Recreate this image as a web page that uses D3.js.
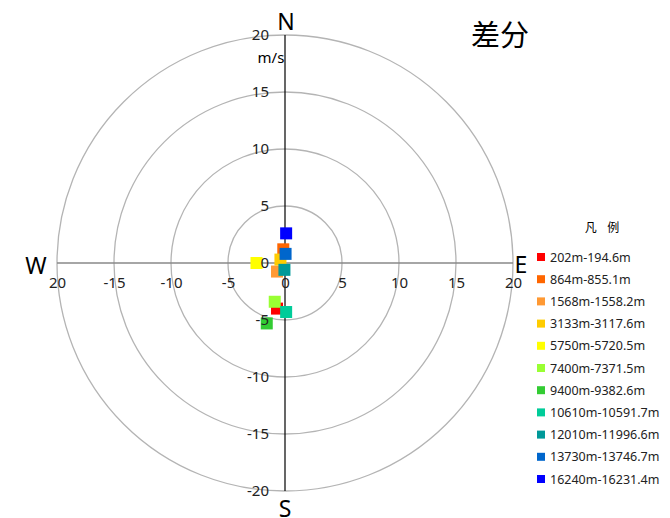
<!DOCTYPE html>
<html>
<head>
<meta charset="utf-8">
<script src="https://cdn.jsdelivr.net/npm/d3@7"></script>
<style>
  body { margin: 0; background: #fff; }
  text { font-family: "Noto Sans", "Open Sans", sans-serif; }
</style>
</head>
<body>
<div id="chart"></div>
<script>
(function(){
// data: u (east) / v (north) difference per level
var series = ["202m-194.6m", "864m-855.1m", "1568m-1558.2m", "3133m-3117.6m", "5750m-5720.5m",
    "7400m-7371.5m", "9400m-9382.6m", "10610m-10591.7m", "12010m-11996.6m", "13730m-13746.7m", "16240m-16231.4m"];
var uValues = [-0.7, -0.15, -0.7, -0.4, -2.5, -0.9, -1.6, 0.1, -0.05, 0.05, 0.1];
var vValues = [-4.0, 1.2, -0.75, 0.3, 0.0, -3.4, -5.3, -4.3, -0.6, 0.8, 2.6];
var colors = ["#ff0000", "#ff6600", "#ff9933", "#ffcc00", "#ffff00", "#99ff33", "#33cc33", "#00cc99", "#009999", "#0066cc", "#0000ff"];
var rings = [5, 10, 15, 20];
var tickValues = [-20, -15, -10, -5, 0, 5, 10, 15, 20];
var xTickLabels = ["20", "-15", "-10", "-5", "0", "5", "10", "15", "20"];
var yTickLabels = ["-20", "-15", "-10", "-5", "0", "5", "10", "15", "20"];

var width = 670, height = 518;
var cx = 285, cy = 263, R = 228;

var svg = d3.select("#chart").append("svg")
    .attr("width", width)
    .attr("height", height);

var x = d3.scaleLinear().domain([-20, 20]).range([cx - R, cx + R]);
var y = d3.scaleLinear().domain([-20, 20]).range([cy + R, cy - R]);
var r = d3.scaleLinear().domain([0, 20]).range([0, R]);

// rings
svg.append("g").selectAll("circle")
    .data(rings)
    .join("circle")
    .attr("cx", cx)
    .attr("cy", cy)
    .attr("r", function (d) { return r(d); })
    .attr("fill", "none")
    .attr("stroke", "#b4b4b4")
    .attr("stroke-width", 1.3);

// axis lines
svg.append("line")
    .attr("x1", x(-20)).attr("x2", x(20))
    .attr("y1", cy).attr("y2", cy)
    .attr("stroke", "#888").attr("stroke-width", 1.5);
svg.append("line")
    .attr("x1", cx).attr("x2", cx)
    .attr("y1", y(20)).attr("y2", y(-20))
    .attr("stroke", "#000").attr("stroke-width", 1.2);

// markers (under the tick labels)
svg.append("g").selectAll("rect")
    .data(series)
    .join("rect")
    .attr("x", function (d, i) { return x(uValues[i]) - 6; })
    .attr("y", function (d, i) { return y(vValues[i]) - 6; })
    .attr("width", 12)
    .attr("height", 12)
    .attr("fill", function (d, i) { return colors[i]; });

// tick labels
var xAxis = svg.append("g")
    .attr("transform", "translate(0," + cy + ")")
    .call(d3.axisBottom(x).tickValues(tickValues).tickSize(0).tickPadding(14)
        .tickFormat(function (d, i) { return xTickLabels[i]; }));
var yAxis = svg.append("g")
    .attr("transform", "translate(" + (cx - 1) + ",0)")
    .call(d3.axisLeft(y).tickValues(tickValues).tickSize(0).tickPadding(15)
        .tickFormat(function (d, i) { return yTickLabels[i]; }));
[xAxis, yAxis].forEach(function (g) {
    g.select(".domain").remove();
    g.selectAll("text")
        .attr("fill", "#222")
        .style("font-size", "15px")
        .style("font-family", "'Noto Sans', 'Open Sans', sans-serif");
});

// compass letters
var compass = [["N", cx + 1, 21], ["S", cx, 508], ["W", 36, 265], ["E", 521, 264]];
svg.append("g").selectAll("text")
    .data(compass)
    .join("text")
    .attr("x", function (d) { return d[1]; })
    .attr("y", function (d) { return d[2]; })
    .attr("text-anchor", "middle")
    .attr("dominant-baseline", "central")
    .style("font-size", "23px")
    .text(function (d) { return d[0]; });

// unit
svg.append("text")
    .attr("x", 271)
    .attr("y", 63)
    .attr("text-anchor", "middle")
    .style("font-size", "15px")
    .text("m/s");

// title
svg.append("text")
    .attr("x", 500)
    .attr("y", 46)
    .attr("text-anchor", "middle")
    .style("font-size", "29px")
    .style("font-family", "'Noto Sans CJK SC', sans-serif")
    .text("差分");

// legend
svg.append("text")
    .attr("x", 604)
    .attr("y", 232)
    .attr("text-anchor", "middle")
    .style("font-size", "12px")
    .style("letter-spacing", "4px")
    .style("font-family", "'Noto Sans CJK SC', sans-serif")
    .text("凡 例");

var legend = svg.append("g").selectAll("g")
    .data(series)
    .join("g")
    .attr("transform", function (d, i) { return "translate(537," + (257 + i * 22.2) + ")"; });
legend.append("rect")
    .attr("x", 0).attr("y", -4)
    .attr("width", 8).attr("height", 8)
    .attr("fill", function (d, i) { return colors[i]; });
legend.append("text")
    .attr("x", 13)
    .attr("y", 4.5)
    .attr("fill", "#222")
    .style("font-size", "12.5px")
    .text(function (d) { return d; });
})();
</script>
</body>
</html>
